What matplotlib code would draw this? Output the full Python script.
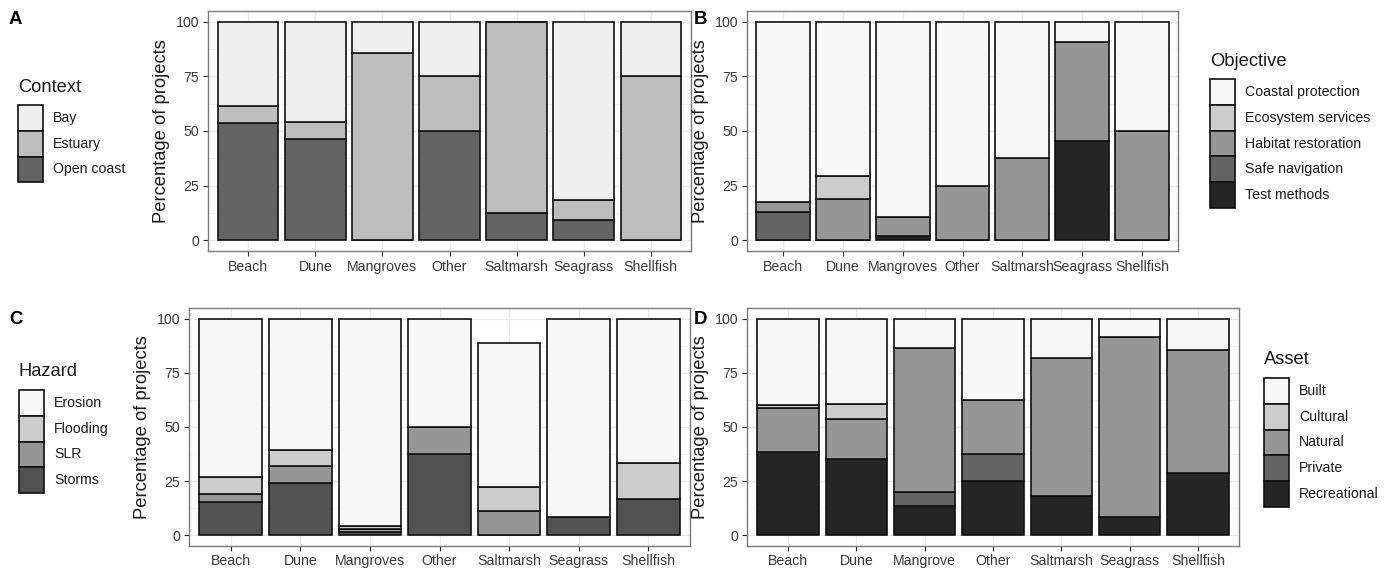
import numpy as np
import matplotlib
matplotlib.use('Agg')
import matplotlib.pyplot as plt
from matplotlib.patches import Rectangle

# ---------------------------------------------------------------
# DATA (percent of projects, stacked bottom -> top)
habitats = ['Beach', 'Dune', 'Mangroves', 'Other', 'Saltmarsh', 'Seagrass', 'Shellfish']
habitats_d = ['Beach', 'Dune', 'Mangrove', 'Other', 'Saltmarsh', 'Seagrass', 'Shellfish']

# A - Context
context_labels = ['Bay', 'Estuary', 'Open coast']
open_coast = [53.8, 46.2, 0, 50, 12.5, 9.1, 0]
estuary = [7.7, 7.7, 85.7, 25, 87.5, 9.1, 75]
bay = [38.5, 46.1, 14.3, 25, 0, 81.8, 25]

# B - Objective
objective_labels = ['Coastal protection', 'Ecosystem services', 'Habitat restoration',
                    'Safe navigation', 'Test methods']
test_methods = [0, 0, 2.1, 0, 0, 45.5, 0]
safe_navigation = [13.0, 0, 0, 0, 0, 0, 0]
habitat_restoration = [4.3, 19.0, 8.4, 25, 37.5, 45.5, 50]
ecosystem_services = [0, 10.5, 0, 0, 0, 0, 0]
coastal_protection = [82.7, 70.5, 89.5, 75, 62.5, 9.0, 50]

# C - Hazard
hazard_labels = ['Erosion', 'Flooding', 'SLR', 'Storms']
storms = [15.4, 24.2, 1.4, 37.5, 0, 8.3, 16.7]
slr = [3.8, 7.6, 1.4, 12.5, 11.1, 0, 0]
flooding = [7.7, 7.6, 1.4, 0, 11.1, 0, 16.6]
erosion = [73.1, 60.6, 95.8, 50, 66.7, 91.7, 66.7]

# D - Asset
asset_labels = ['Built', 'Cultural', 'Natural', 'Private', 'Recreational']
recreational = [38.5, 35.0, 13.3, 25, 18.2, 8.3, 28.6]
private = [0, 0, 6.7, 12.5, 0, 0, 0]
natural = [20.5, 18.5, 66.7, 25, 63.6, 83.4, 57.1]
cultural = [1.0, 7.0, 0, 0, 0, 0, 0]
built = [40.0, 39.5, 13.3, 37.5, 18.2, 8.3, 14.3]

# ---------------------------------------------------------------
W, H = 1384, 569
plt.rcParams['font.family'] = ['Liberation Sans', 'DejaVu Sans']
fig = plt.figure(figsize=(W / 100, H / 100), dpi=100)

TICK_FS = 10.2
TITLE_FS = 13.2


def px_axes(l, t, r, b):
    return fig.add_axes([l / W, 1 - b / H, (r - l) / W, (b - t) / H])


def panel(ax, cats, series, colors, xpad=3):
    x = np.arange(1, len(cats) + 1)
    bottom = np.zeros(len(cats))
    for vals, c in zip(series, colors):
        vals = np.array(vals, dtype=float)
        ax.bar(x, vals, width=0.9, bottom=bottom, color=c, edgecolor='#111111',
               linewidth=1.2, zorder=3)
        bottom += vals
    ax.set_xlim(0.4, len(cats) + 0.6)
    ax.set_ylim(-5, 105)
    ax.set_yticks([0, 25, 50, 75, 100])
    ax.set_yticks([12.5, 37.5, 62.5, 87.5], minor=True)
    ax.set_xticks(x)
    ax.set_xticklabels(cats)
    ax.grid(True, which='major', color='#ebebeb', linewidth=1.0, zorder=0)
    ax.grid(True, which='minor', axis='y', color='#f4f4f4', linewidth=0.6, zorder=0)
    ax.tick_params(axis='both', which='major', colors='#333333', labelcolor='#3a3a3a',
                   labelsize=TICK_FS, length=3.5, width=0.8, pad=3)
    ax.tick_params(axis='x', which='major', pad=xpad)
    ax.tick_params(axis='y', which='minor', length=0)
    for s in ax.spines.values():
        s.set_color('#7a7a7a')
        s.set_linewidth(1.0)
    ax.set_ylabel('Percentage of projects', fontsize=TITLE_FS, color='#1a1a1a', labelpad=4)


def legend(x, ytitle, ykey, title, labels, colors, kw=25, kh=25.8):
    fig.text(x / W, 1 - ytitle / H, title, fontsize=TITLE_FS, color='#1a1a1a',
             ha='left', va='center')
    for i, (lab, c) in enumerate(zip(labels, colors)):
        top = ykey + i * kh
        fig.add_artist(Rectangle((x / W, 1 - (top + kh) / H), kw / W, kh / H,
                                 transform=fig.transFigure, facecolor=c,
                                 edgecolor='#111111', linewidth=1.2))
        fig.text((x + kw + 10) / W, 1 - (top + kh / 2) / H, lab, fontsize=TICK_FS,
                 color='#1a1a1a', ha='left', va='center')


# A
axA = px_axes(208, 11, 691, 251)
panel(axA, habitats, [open_coast, estuary, bay], ['#636363', '#bdbdbd', '#f0f0f0'])
legend(18, 88, 105, 'Context', context_labels, ['#f0f0f0', '#bdbdbd', '#636363'])

# B
axB = px_axes(747, 11, 1178, 251)
panel(axB, habitats, [test_methods, safe_navigation, habitat_restoration,
                      ecosystem_services, coastal_protection],
      ['#252525', '#636363', '#969696', '#cccccc', '#f7f7f7'])
legend(1210, 62, 79, 'Objective', objective_labels,
       ['#f7f7f7', '#cccccc', '#969696', '#636363', '#252525'])

# C
axC = px_axes(189, 308, 690, 546)
panel(axC, habitats, [storms, slr, flooding, erosion],
      ['#525252', '#969696', '#cccccc', '#f7f7f7'], xpad=2)
legend(19, 372, 390, 'Hazard', hazard_labels, ['#f7f7f7', '#cccccc', '#969696', '#525252'])

# D
axD = px_axes(747, 308, 1239, 546)
panel(axD, habitats_d, [recreational, private, natural, cultural, built],
      ['#252525', '#636363', '#969696', '#cccccc', '#f7f7f7'], xpad=2)
legend(1264, 360, 378, 'Asset', asset_labels,
       ['#f7f7f7', '#cccccc', '#969696', '#636363', '#252525'])

# panel letters
for lab, xp, yp in [('A', 9, 20), ('B', 694, 20), ('C', 9, 320), ('D', 694, 320)]:
    fig.text(xp / W, 1 - yp / H, lab, fontsize=13.5, fontweight='bold', va='center', ha='left')

fig.savefig('out.png', dpi=100)
